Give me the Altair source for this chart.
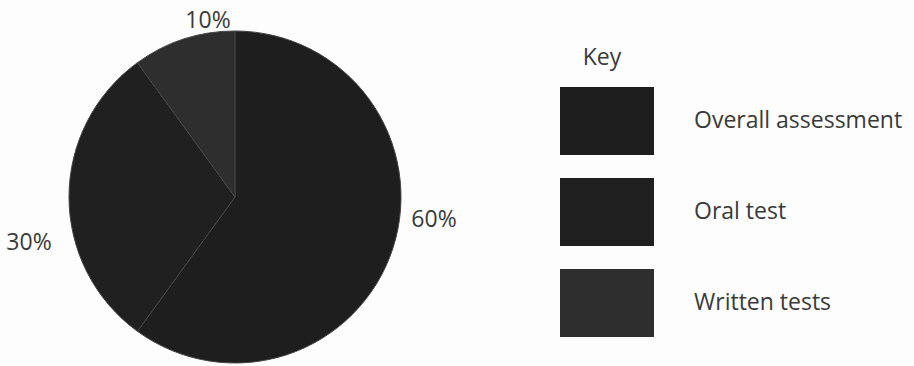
import altair as alt
import pandas as pd

# ---- data ----
categories = ["Overall assessment", "Oral test", "Written tests"]
shares = [60, 30, 10]
slice_order = [0, 1, 2]

df = pd.DataFrame({"category": categories, "share": shares, "order": slice_order})

# ---- styles ----
slice_colors = ["#1e1e1e", "#202020", "#2e2e2e"]
text_color = "#3a3a3a"
font = "Open Sans"
FS = 23

CX, CY, R = 235, 197, 166

pie = alt.Chart(df).mark_arc(radius=R, stroke="#444444", strokeWidth=1).encode(
    theta=alt.Theta("share:Q", stack=True),
    order=alt.Order("order:Q"),
    color=alt.Color(
        "category:N",
        scale=alt.Scale(domain=categories, range=slice_colors),
        legend=alt.Legend(
            orient="none",
            legendX=560,
            legendY=74,
            title=None,
            symbolType="M-1,-0.723H1V0.723H-1Z",
            symbolSize=8836,
            symbolStrokeWidth=0,
            symbolOpacity=1,
            labelOffset=40,
            labelFont=font,
            labelFontSize=FS,
            labelColor=text_color,
            labelLimit=400,
            rowPadding=10,
        ),
    ),
    x=alt.value(CX),
    y=alt.value(CY),
)

# percentage labels (text from the data, placement as in the reference)
label_pos = {"Overall assessment": (434, 227), "Oral test": (29, 250), "Written tests": (208, 28)}
layers = [pie]
for cat, val in zip(categories, shares):
    lx, ly = label_pos[cat]
    sub = df[df["category"] == cat].assign(lab=f"{val}%")
    layers.append(
        alt.Chart(sub).mark_text(
            font=font, fontSize=FS, color=text_color, align="center", baseline="alphabetic"
        ).encode(text="lab:N", x=alt.value(lx), y=alt.value(ly))
    )

key_df = pd.DataFrame({"t": ["Key"]})
layers.append(
    alt.Chart(key_df).mark_text(
        font=font, fontSize=FS, color=text_color, align="center", baseline="alphabetic"
    ).encode(text="t:N", x=alt.value(602), y=alt.value(65))
)

chart = alt.layer(*layers).properties(
    width=914, height=366, padding=0, autosize=alt.AutoSizeParams(type="none"),
    background="#fdfdfd",
).configure_view(stroke=None)

chart.save("out.html", embed_options={"renderer": "svg", "actions": False})
